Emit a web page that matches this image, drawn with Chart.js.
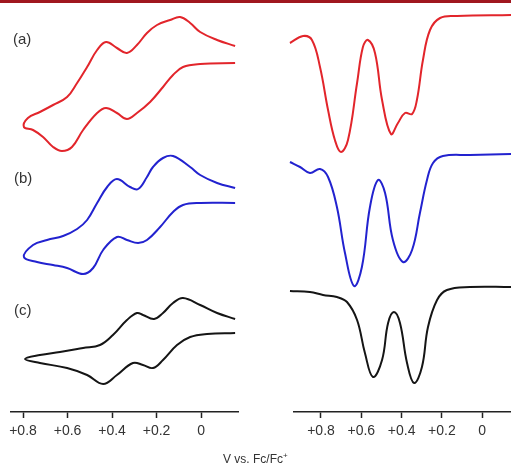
<!DOCTYPE html>
<html>
<head>
<meta charset="utf-8">
<script src="https://cdn.jsdelivr.net/npm/chart.js@4.4.1/dist/chart.umd.min.js"></script>
<style>
  body { margin: 0; background: #fff; }
  #wrap { position: relative; width: 511px; height: 469px; overflow: hidden; font-family: "Liberation Sans", Arial, sans-serif; }
  #topbar { position: absolute; left: 0; top: 0; width: 511px; height: 3px; background: #a0171f; }
  canvas { position: absolute; top: 0; }
  .tag { position: absolute; font-size: 15px; color: #333; line-height: 15px; }
  #xtitle { position: absolute; top: 452px; left: 223px; font-size: 12px; color: #333; white-space: nowrap; }
  #xtitle sup { font-size: 8px; vertical-align: 5px; line-height: 0; }
</style>
</head>
<body>
<div id="wrap">
  <canvas id="cv" width="250" height="469" style="left:0"></canvas>
  <canvas id="dpv" width="261" height="469" style="left:250px"></canvas>
  <div id="topbar"></div>
  <div class="tag" style="left:13px;top:31px">(a)</div>
  <div class="tag" style="left:14px;top:170px">(b)</div>
  <div class="tag" style="left:14px;top:302px">(c)</div>
  <div id="xtitle">V vs. Fc/Fc<sup>+</sup></div>
</div>
<script>
// tick labels (V)
const tickValues = [0.8, 0.6, 0.4, 0.2, 0];

// CV traces: potential (V) and current (a.u., traces stacked)
const cvA_V = [-0.153, 0.004, 0.081, 0.126, 0.171, 0.229, 0.288, 0.333, 0.378, 0.427, 0.467, 0.530, 0.580, 0.625, 0.665, 0.710, 0.755, 0.796,
               0.778, 0.724, 0.665, 0.602, 0.557, 0.512, 0.467, 0.427, 0.378, 0.333, 0.288, 0.243, 0.198, 0.139, 0.094, 0.049, 0.004, -0.072, -0.153];
const cvA_I = [349, 348, 345, 337, 325, 310, 299, 293, 299, 304, 299, 282, 265, 261, 265, 275, 282, 285,
               294, 300, 307, 315, 329, 345, 362, 370, 364, 359, 367, 379, 387, 392, 395, 389, 380, 372, 366];

const cvB_V = [-0.153, 0.004, 0.081, 0.126, 0.184, 0.243, 0.283, 0.333, 0.378, 0.440, 0.485, 0.530, 0.602, 0.665, 0.737, 0.796,
               0.755, 0.692, 0.620, 0.557, 0.512, 0.467, 0.422, 0.378, 0.319, 0.283, 0.243, 0.216, 0.171, 0.126, 0.049, 0.004, -0.072, -0.153];
const cvB_I = [209, 209, 207, 200, 185, 172, 169, 172, 175, 162, 144, 138, 144, 147, 150, 155,
               167, 172, 176, 183, 192, 209, 225, 233, 225, 223, 235, 245, 254, 256, 245, 237, 229, 224];

const cvC_V = [-0.153, -0.027, 0.049, 0.108, 0.171, 0.216, 0.261, 0.306, 0.378, 0.440, 0.512, 0.602, 0.724, 0.791,
               0.724, 0.634, 0.530, 0.454, 0.396, 0.333, 0.288, 0.261, 0.211, 0.171, 0.126, 0.081, 0.004, -0.072, -0.153];
const cvC_I = [79, 78, 75, 67, 52, 44, 47, 49, 37, 28, 37, 44, 49, 53,
               57, 60, 64, 67, 77, 92, 99, 97, 93, 99, 109, 114, 107, 99, 93];

// DPV traces
const dpvA_V = [0.954, 0.889, 0.845, 0.805, 0.765, 0.731, 0.701, 0.666, 0.621, 0.592, 0.567, 0.532, 0.497, 0.453, 0.418, 0.383, 0.348, 0.324, 0.294, 0.259, 0.209, 0.125, -0.143];
const dpvA_I = [369, 376, 372, 345, 302, 272, 260, 272, 329, 365, 372, 359, 312, 278, 289, 299, 298, 312, 352, 382, 394, 396, 397];

const dpvB_V = [0.954, 0.904, 0.855, 0.805, 0.765, 0.721, 0.681, 0.636, 0.597, 0.557, 0.517, 0.482, 0.443, 0.393, 0.348, 0.309, 0.274, 0.244, 0.195, 0.061, -0.143];
const dpvB_I = [250, 245, 239, 243, 235, 205, 159, 126, 145, 205, 232, 219, 172, 150, 162, 199, 232, 249, 256, 257, 258];

const dpvC_V = [0.954, 0.855, 0.790, 0.721, 0.671, 0.621, 0.582, 0.542, 0.497, 0.467, 0.438, 0.408, 0.373, 0.338, 0.299, 0.269, 0.224, 0.175, 0.061, -0.143];
const dpvC_I = [121, 120, 117, 115, 110, 92, 59, 35, 52, 89, 100, 89, 49, 29, 45, 85, 112, 122, 125, 125];

const colors = ['#e2252b', '#2222cf', '#151515'];

function pts(xs, ys) {
  return xs.map((x, i) => ({ x: x, y: ys[i] }));
}

function makeSet(xs, ys, color) {
  return {
    data: pts(xs, ys),
    borderColor: color,
    borderWidth: 2,
    showLine: true,
    pointRadius: 0,
    tension: 0.4,
    fill: false,
    clip: false
  };
}

function makeChart(id, sets, xmin, xmax, padL, padR) {
  return new Chart(document.getElementById(id), {
    type: 'scatter',
    data: { datasets: sets },
    options: {
      responsive: false,
      animation: false,
      layout: { padding: { left: padL, right: padR, top: 0, bottom: 0 } },
      plugins: { legend: { display: false }, tooltip: { enabled: false } },
      scales: {
        x: {
          type: 'linear',
          min: xmin,
          max: xmax,
          reverse: true,
          afterBuildTicks: (axis) => { axis.ticks = tickValues.map(v => ({ value: v })); },
          afterFit: (axis) => { axis.height = 57; axis.paddingLeft = 0; axis.paddingRight = 0; },
          border: { display: true, color: '#222', width: 1.5 },
          grid: { display: true, drawOnChartArea: false, drawTicks: true, tickLength: 6, tickColor: '#222', tickWidth: 1.5 },
          ticks: {
            color: '#333',
            padding: 5,
            maxRotation: 0,
            autoSkip: false,
            font: { family: '"Liberation Sans", Arial, sans-serif', size: 14 },
            callback: (v) => v > 0 ? '+' + v.toFixed(1) : '0'
          }
        },
        y: { display: false, min: 0, max: 412 }
      }
    }
  });
}

makeChart('cv', [
  makeSet(cvA_V, cvA_I, colors[0]),
  makeSet(cvB_V, cvB_I, colors[1]),
  makeSet(cvC_V, cvC_I, colors[2])
], -0.166, 0.854, 11, 12);

makeChart('dpv', [
  makeSet(dpvA_V, dpvA_I, colors[0]),
  makeSet(dpvB_V, dpvB_I, colors[1]),
  makeSet(dpvC_V, dpvC_I, colors[2])
], -0.143, 0.934, 44, 0);
</script>
</body>
</html>
